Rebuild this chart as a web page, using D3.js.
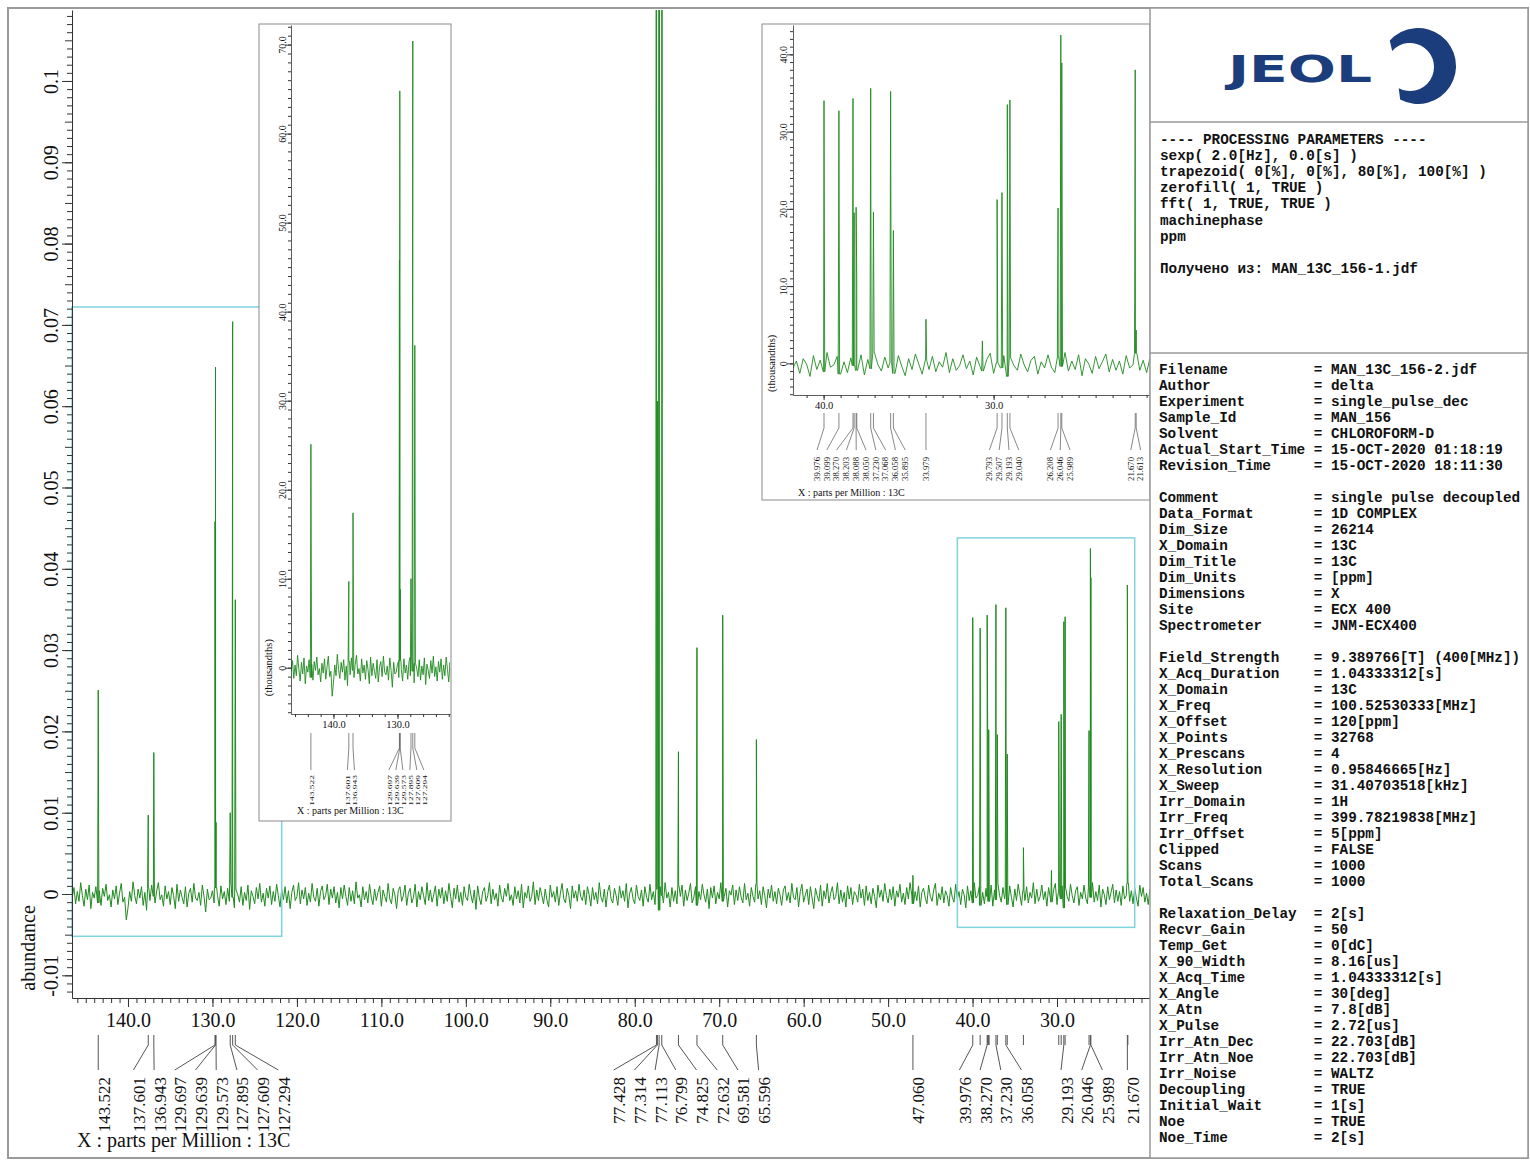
<!DOCTYPE html>
<html>
<head>
<meta charset="utf-8">
<script src="https://cdn.jsdelivr.net/npm/d3@7"></script>
<style>
  html, body { margin: 0; padding: 0; background: #fff; }
  svg { display: block; }
</style>
</head>
<body>
<div id="chart"></div>
<script>
// ---- 数据 ----
// 主图坐标轴刻度
const X_TICKS_MAIN = [140, 130, 120, 110, 100, 90, 80, 70, 60, 50, 40, 30];
const Y_TICKS_MAIN = [-0.01, 0, 0.01, 0.02, 0.03, 0.04, 0.05, 0.06, 0.07, 0.08, 0.09, 0.1];
// 插图刻度（千分之一单位）
const X_TICKS_INSET1 = [140, 130];
const Y_TICKS_INSET1 = [0, 10, 20, 30, 40, 50, 60, 70];
const X_TICKS_INSET2 = [40, 30];
const Y_TICKS_INSET2 = [0, 10, 20, 30, 40];

// 峰位置 (ppm) 与峰高 (thousandths)
const PEAK_PPM = [143.522, 137.601, 136.943, 129.697, 129.639, 129.573, 127.895, 127.609, 127.294,
  77.428, 77.314, 77.113, 76.799, 74.825, 72.632, 69.581, 65.596, 47.060,
  39.976, 39.099, 38.270, 38.203, 38.088, 38.050, 37.230, 37.068, 36.058, 35.895, 33.979,
  29.793, 29.507, 29.193, 29.040, 26.208, 26.046, 25.989, 21.670, 21.613];
const PEAK_HEIGHT = [26.2, 9.0, 17.7, 45.0, 64.0, 8.0, 8.8, 70.8, 35.7,
  300, 60, 300, 300, 16.5, 31.7, 35.2, 17.8, 3.5,
  35.1, 34.1, 34.6, 19.8, 21.1, 12.0, 36.3, 18.3, 35.1, 18.5, 5.3,
  21.1, 22.7, 35.2, 33.4, 19.3, 42.9, 39.3, 36.7, 3.0];
// 未标注的小峰
const EXTRA_PEAK_PPM = [30.66];
const EXTRA_PEAK_HEIGHT = [3.9];

// 各图中标注的峰
const MAIN_LABEL_PPM = [143.522, 137.601, 136.943, 129.697, 129.639, 129.573, 127.895, 127.609, 127.294,
  77.428, 77.314, 77.113, 76.799, 74.825, 72.632, 69.581, 65.596, 47.060,
  39.976, 38.270, 37.230, 36.058, 29.193, 26.046, 25.989, 21.670];
const INSET1_LABEL_PPM = [143.522, 137.601, 136.943, 129.697, 129.639, 129.573, 127.895, 127.609, 127.294];
const INSET2_LABEL_PPM = [39.976, 39.099, 38.270, 38.203, 38.088, 38.050, 37.230, 37.068, 36.058, 35.895,
  33.979, 29.793, 29.507, 29.193, 29.040, 26.208, 26.046, 25.989, 21.670, 21.613];

// 基线噪声（单位 1e-4），从 146.6 ppm 起每 0.2 ppm 一个点
const NOISE_START = 146.6;
const NOISE_STEP = 0.2;
const NOISE = [
  -4, 8, -12, 3, -9, 14, -2, -15, 6, -7, 11, -18, 2, -5, 9, -11, 4, -14, 7, -3,
  12, -8, -1, -16, 5, -6, 10, -13, 1, 13, -10, -4, -32, -17, 3, -9, 15, -2, -12, 6,
  -5, 9, -14, 2, -20, 7, -8, 11, -3, -11, 4, 14, -7, -1, -15, 10, -6, 3, -13, 8,
  -2, -18, 12, -9, 5, -4, -12, 9, -16, 1, 7, -10, 13, -5, -8, 2, -14, 11, -3, -22,
  6, -7, -5, 4, -11, 8, -2, -15, 10, -6, 3, -13, 7, -9, 12, -4, -17, 5, -1, -10,
  9, -14, 2, -8, 11, -19, 4, -3, -12, 8, -6, 13, -10, 1, -15, 7, -5, 10, -13, 3,
  -9, 12, -2, -16, 6, -7, 9, -11, 4, -18, 2, 11, -8, -3, 14, -12, 5, -6, 8, -14,
  1, -10, 13, -4, -9, 7, -15, 3, 10, -7, -2, 12, -13, 6, -5, 9, -11, 2, -17, 8,
  -6, 11, -3, -14, 8, -9, 4, -12, 15, -5, -1, -16, 9, -7, 3, -11, 12, -4, -13, 6,
  -8, 2, 10, -15, 5, -3, -10, 13, -6, -12, 7, -1, -18, 4, 9, -9, -2, 11, -14, 1,
  7, -11, -4, 12, -16, 3, -7, 9, -2, -13, 14, -8, 5, -10, -1, 10, -15, 6, -5, 8,
  -12, 4, -9, 13, -3, -17, 7, -6, 11, -10, 2, -14, 9, -4, -8, 12, -1, -11, 5, -19,
  10, -5, -13, 3, 8, -9, -2, 14, -12, 6, -7, 1, -15, 11, -4, -10, 7, -3, 13, -8,
  -1, -14, 9, -6, 4, -11, 12, -17, 2, -5, 10, -9, -3, 15, -13, 5, -8, 8, -2, -12,
  6, -7, -16, 11, -4, 3, -10, 9, -14, 1, 13, -6, -11, 7, -2, -18, 10, -5, 4, -9,
  12, -3, -8, 5, -13, 9, -1, -15, 8, -7, 2, -12, 14, -4, -10, 6, -16, 3, 11, -6,
  -11, 7, -2, -14, 10, -5, 4, -9, 13, -17, 1, 8, -6, -12, 11, -3, -8, 5, -15, 9,
  -4, -10, 12, -7, 3, -13, 6, -20, 9, -2, -11, 14, -5, 2, -16, 8, -9, 4, -12, 10,
  -3, 11, -15, 5, -8, 1, 13, -11, -4, 9, -14, 3, -7, 12, -1, -10, 6, -18, 8, -5,
  10, -12, 2, -6, 14, -9, -3, 7, -16, 4, -1, 11, -13, 5, -8, 9, -4, -11, 13, -7,
  1, -15, 8, -3, -10, 12, -6, 4, -13, 9, -2, -17, 6, -5, 11, -9, 3, -12, 7, -1,
  -14, 5, 10, -8, 2, -11, 13, -4, -7, 8, -16, 3, 12, -10, -1, 6, -13, 9, -5, -18,
  7, -2, -9, 11, -15, 4, -6, 13, -11, 1, 9, -7, -3, 14, -12, 5, -10, 2, -16, 10,
  -6, 8, -13, 3, -1, -10, 12, -5, 6, -14, 10, -8, 2, -12, 7, -3, -17, 11, -4, 5,
  -9, 13, -2, -11, 6, -7, 9, -15, 4, -4, 12, -10, 1, -13, 8, -6, 14, -1, -12, 3,
  -8, 10, -16, 2, 7, -5, -12, 11, -3, -9, 5, 13, -14, 1, -7, 9, -11, 4, -2, -15,
  8, -4, -10, 12, -6, 3, -13, 6, -1, -17, 10, -8, 4, -11, 14, -5, -2, 9, -14, 2,
  -12, 7, -3, -9, 11, -15, 5, -7, 13, -2, -10, 8, -6, 1, -13, 10, -4, -16, 6, -8,
  12, -1, -14, 4, -8, 9, -11, 2, -5, 14, -12, 6, -9, -3, 11, -7, 3, -15, 8, -4,
  -10, 5, 13, -13, 1, -6, 10, -17, 7, -3, -9, 12, -2, -11, 4, 9, -14, 2, -6, 11,
  -5, -12, 8, -4, 14, -10, 3, -8, 11, -16, 6, -1, -13, 9, -7, 2, 12, -11, 5, -9,
  3, -14, 10, -6, -2, 13, -9, 4, -12, 7, -5, -15, 11, -3, 8, -10, 1, -13, 6, -7
];

// 右侧参数面板
const PROCESSING_LINES = [
  "---- PROCESSING PARAMETERS ----",
  "sexp( 2.0[Hz], 0.0[s] )",
  "trapezoid( 0[%], 0[%], 80[%], 100[%] )",
  "zerofill( 1, TRUE )",
  "fft( 1, TRUE, TRUE )",
  "machinephase",
  "ppm",
  "",
  "Получено из: MAN_13C_156-1.jdf"
];
const PARAM_NAMES = ["Filename", "Author", "Experiment", "Sample_Id", "Solvent", "Actual_Start_Time", "Revision_Time", "",
  "Comment", "Data_Format", "Dim_Size", "X_Domain", "Dim_Title", "Dim_Units", "Dimensions", "Site", "Spectrometer", "",
  "Field_Strength", "X_Acq_Duration", "X_Domain", "X_Freq", "X_Offset", "X_Points", "X_Prescans", "X_Resolution",
  "X_Sweep", "Irr_Domain", "Irr_Freq", "Irr_Offset", "Clipped", "Scans", "Total_Scans", "",
  "Relaxation_Delay", "Recvr_Gain", "Temp_Get", "X_90_Width", "X_Acq_Time", "X_Angle", "X_Atn", "X_Pulse",
  "Irr_Atn_Dec", "Irr_Atn_Noe", "Irr_Noise", "Decoupling", "Initial_Wait", "Noe", "Noe_Time"];
const PARAM_VALUES = ["MAN_13C_156-2.jdf", "delta", "single_pulse_dec", "MAN_156", "CHLOROFORM-D",
  "15-OCT-2020 01:18:19", "15-OCT-2020 18:11:30", "",
  "single pulse decoupled", "1D COMPLEX", "26214", "13C", "13C", "[ppm]", "X", "ECX 400", "JNM-ECX400", "",
  "9.389766[T] (400[MHz])", "1.04333312[s]", "13C", "100.52530333[MHz]", "120[ppm]", "32768", "4",
  "0.95846665[Hz]", "31.40703518[kHz]", "1H", "399.78219838[MHz]", "5[ppm]", "FALSE", "1000", "1000", "",
  "2[s]", "50", "0[dC]", "8.16[us]", "1.04333312[s]", "30[deg]", "7.8[dB]", "2.72[us]",
  "22.703[dB]", "22.703[dB]", "WALTZ", "TRUE", "1[s]", "TRUE", "2[s]"];

// ---- 样式 ----
const SERIF = "'Liberation Serif', 'Times New Roman', serif";
const MONO = "'Liberation Mono', 'Courier New', monospace";
const GREEN = "#1f8a1f";
const CYAN = "#7fd4de";
const AXIS = "#333";
const LOGO_BLUE = "#1c3d7b";

const W = 1530, H = 1160;
const svg = d3.select("#chart").append("svg").attr("width", W).attr("height", H);
const defs = svg.append("defs");

// 主图布局
const M = { left: 72, right: 1150, top: 10, bottom: 998, ppm: [146.63, 18.99], y: [-0.01279, 0.10873] };
// 插图布局
const IN1 = { box: [259, 24, 451, 821], left: 291, right: 450, top: 25, bottom: 714,
  ppm: [146.63, 121.8], y: [-5.2, 72.2], xTicks: X_TICKS_INSET1, yTicks: Y_TICKS_INSET1, xMinor: 2,
  labels: INSET1_LABEL_PPM, geo: { top: 733, bend: 748, end: 770, text: 775, font: 9.5, gap: 7, dx: 1, sx: 0.7 },
  xLabelY: 14, yLabelOff: -4.7, unitX: 268, titleX: 297, titleY: 814, id: "in1" };
const IN2 = { box: [762, 24, 1150, 500], left: 793, right: 1150, top: 25, bottom: 395,
  ppm: [41.8, 20.8], y: [-4.1, 43.8], xTicks: X_TICKS_INSET2, yTicks: Y_TICKS_INSET2, xMinor: 1,
  labels: INSET2_LABEL_PPM, geo: { top: 413, bend: 428, end: 450, text: 457, font: 8.7, gap: 9.8, dx: 0.5, sx: 0.9 },
  xLabelY: 14, yLabelOff: -5.7, unitX: 771, titleX: 798, titleY: 496, id: "in2" };

const allPeaks = PEAK_PPM.map((p, i) => [p, PEAK_HEIGHT[i]])
  .concat(EXTRA_PEAK_PPM.map((p, i) => [p, EXTRA_PEAK_HEIGHT[i]]));

// 生成谱线像素点：噪声点 + 每个峰的尖峰
function spectrumPoints(x, y, k, halfW) {
  const pts = NOISE.map((v, i) => [x(NOISE_START - i * NOISE_STEP), y(v / 10 * k)]);
  allPeaks.forEach(([p, h]) => {
    const i = Math.round((NOISE_START - p) / NOISE_STEP);
    const base = (NOISE[i] || 0) / 10;
    const px = x(p);
    pts.push([px - halfW, y(base * k)], [px, y((base + h) * k)], [px + halfW, y(base * k)]);
  });
  pts.sort((a, b) => a[0] - b[0]);
  return pts;
}

// 标签位置：保序回归，保证最小间距
function spreadSlots(xs, gap) {
  const blocks = [];
  xs.forEach((v, i) => {
    blocks.push({ n: 1, sum: v - i * gap });
    while (blocks.length > 1) {
      const b = blocks[blocks.length - 1], a = blocks[blocks.length - 2];
      if (a.sum / a.n <= b.sum / b.n) break;
      a.n += b.n; a.sum += b.sum; blocks.pop();
    }
  });
  const out = [];
  blocks.forEach(b => { for (let j = 0; j < b.n; j++) out.push(b.sum / b.n + out.length * gap); });
  return out;
}

function drawPeakLabels(g, x, labelPpm, tickPpm, geo, lineW) {
  tickPpm.forEach(p => {
    g.append("line").attr("x1", x(p)).attr("x2", x(p)).attr("y1", geo.top).attr("y2", geo.bend)
      .attr("stroke", "#555").attr("stroke-width", lineW);
  });
  const sorted = labelPpm.slice().sort((a, b) => b - a);
  const xs = sorted.map(x);
  const slots = spreadSlots(xs, geo.gap);
  sorted.forEach((p, i) => {
    g.append("path")
      .attr("d", `M${xs[i]},${geo.top}L${xs[i]},${geo.bend}L${slots[i]},${geo.end}`)
      .attr("fill", "none").attr("stroke", "#555").attr("stroke-width", lineW);
    g.append("text")
      .attr("transform", `translate(${slots[i] + geo.dx},${geo.text}) scale(${geo.sx || 1},1) rotate(-90)`)
      .attr("text-anchor", "end").attr("dominant-baseline", "central")
      .attr("font-family", SERIF).attr("font-size", geo.font).attr("fill", "#111")
      .text(d3.format(".3f")(p));
  });
}

function clip(id, x0, y0, x1, y1) {
  defs.append("clipPath").attr("id", id).append("rect")
    .attr("x", x0).attr("y", y0).attr("width", x1 - x0).attr("height", y1 - y0);
}

// ---- 外框 ----
svg.append("rect").attr("x", 8).attr("y", 8).attr("width", 1520).attr("height", 1150)
  .attr("fill", "#fff").attr("stroke", "#9a9a9a").attr("stroke-width", 2);

// ---- 主图 ----
const xM = d3.scaleLinear().domain(M.ppm).range([M.left, M.right]);
const yM = d3.scaleLinear().domain(M.y).range([M.bottom, M.top]);
clip("clip-main", M.left, M.top, M.right, M.bottom);

svg.append("path")
  .attr("clip-path", "url(#clip-main)")
  .attr("d", d3.line()(spectrumPoints(xM, yM, 0.001, 0.6)))
  .attr("fill", "none").attr("stroke", GREEN).attr("stroke-width", 1);

// 缩放区域的青色框
[IN1, IN2].forEach(c => {
  const x0 = xM(c.ppm[0]), x1 = xM(c.ppm[1]);
  const y0 = yM(c.y[1] / 1000), y1 = yM(c.y[0] / 1000);
  svg.append("rect").attr("x", x0).attr("y", y0).attr("width", x1 - x0).attr("height", y1 - y0)
    .attr("fill", "none").attr("stroke", CYAN).attr("stroke-width", 1.5);
});

// x 轴
svg.append("g").attr("transform", `translate(0,${M.bottom})`).attr("color", AXIS)
  .call(d3.axisBottom(xM).tickValues(d3.range(19, 147)).tickSize(5).tickFormat(""))
  .call(g => g.select(".domain").remove());
const gxM = svg.append("g").attr("transform", `translate(0,${M.bottom})`).attr("color", AXIS)
  .call(d3.axisBottom(xM).tickValues(X_TICKS_MAIN).tickSize(9).tickSizeOuter(0).tickFormat(d => d.toFixed(1)));
gxM.selectAll("text").attr("y", 29).attr("dy", 0).attr("font-family", SERIF).attr("font-size", 20).attr("fill", "#111");

// y 轴
svg.append("g").attr("transform", `translate(${M.left},0)`).attr("color", AXIS)
  .call(d3.axisLeft(yM).tickValues(d3.range(-12, 109).map(i => i / 1000).filter(v => Math.round(v * 1000) % 5 !== 0)).tickSize(5).tickFormat(""))
  .call(g => g.select(".domain").remove());
svg.append("g").attr("transform", `translate(${M.left},0)`).attr("color", AXIS)
  .call(d3.axisLeft(yM).tickValues(d3.range(-10, 109, 5).map(i => i / 1000)).tickSize(7).tickFormat(""))
  .call(g => g.select(".domain").remove());
const gyM = svg.append("g").attr("transform", `translate(${M.left},0)`).attr("color", AXIS)
  .call(d3.axisLeft(yM).tickValues(Y_TICKS_MAIN).tickSize(10).tickSizeOuter(0).tickFormat(d => String(d)));
gyM.selectAll("text").attr("transform", "rotate(-90)").attr("x", 0).attr("y", -14).attr("dy", 0)
  .attr("text-anchor", "middle").attr("font-family", SERIF).attr("font-size", 20).attr("fill", "#111");

svg.append("text").attr("transform", `translate(35,948) rotate(-90)`).attr("text-anchor", "middle")
  .attr("font-family", SERIF).attr("font-size", 20).attr("fill", "#111").text("abundance");
svg.append("text").attr("x", 77).attr("y", 1147).attr("font-family", SERIF).attr("font-size", 20)
  .attr("fill", "#111").text("X : parts per Million : 13C");

// 主图峰标注
const inMain = p => p <= M.ppm[0] && p >= M.ppm[1];
drawPeakLabels(svg.append("g"), xM, MAIN_LABEL_PPM,
  PEAK_PPM.filter(p => inMain(p) && !MAIN_LABEL_PPM.includes(p)),
  { top: 1035, bend: 1045, end: 1070, text: 1077, font: 17, gap: 20.7, dx: 6 }, 1);

// ---- 插图 ----
function drawInset(c) {
  const g = svg.append("g");
  const [bx0, by0, bx1, by1] = c.box;
  g.append("rect").attr("x", bx0).attr("y", by0).attr("width", bx1 - bx0).attr("height", by1 - by0)
    .attr("fill", "#fff").attr("stroke", "#8a8a8a").attr("stroke-width", 1);
  const x = d3.scaleLinear().domain(c.ppm).range([c.left, c.right]);
  const y = d3.scaleLinear().domain(c.y).range([c.bottom, c.top]);
  clip("clip-" + c.id, c.left, c.top, c.right, c.bottom);
  g.append("path").attr("clip-path", `url(#clip-${c.id})`)
    .attr("d", d3.line()(spectrumPoints(x, y, 1, 0.7)))
    .attr("fill", "none").attr("stroke", GREEN).attr("stroke-width", 0.9);

  const lo = Math.ceil(Math.min(...c.ppm)), hi = Math.floor(Math.max(...c.ppm));
  g.append("g").attr("transform", `translate(0,${c.bottom})`).attr("color", AXIS)
    .call(d3.axisBottom(x).tickValues(d3.range(lo, hi + 1).filter(v => v % c.xMinor === 0)).tickSize(3).tickFormat(""))
    .call(s => s.select(".domain").remove());
  const gx = g.append("g").attr("transform", `translate(0,${c.bottom})`).attr("color", AXIS)
    .call(d3.axisBottom(x).tickValues(c.xTicks).tickSize(5).tickSizeOuter(0).tickFormat(d => d.toFixed(1)));
  gx.selectAll("text").attr("y", c.xLabelY).attr("dy", 0).attr("font-family", SERIF).attr("font-size", 10.5).attr("fill", "#111");
  gx.select(".domain").attr("stroke-width", 0.8);

  g.append("g").attr("transform", `translate(${c.left},0)`).attr("color", AXIS)
    .call(d3.axisLeft(y).tickValues(d3.range(Math.ceil(c.y[0]), Math.floor(c.y[1]) + 1)).tickSize(3).tickFormat(""))
    .call(s => s.select(".domain").remove());
  const gy = g.append("g").attr("transform", `translate(${c.left},0)`).attr("color", AXIS)
    .call(d3.axisLeft(y).tickValues(c.yTicks).tickSize(6).tickSizeOuter(0).tickFormat(d => d === 0 ? "0" : d.toFixed(1)));
  gy.selectAll("text").attr("transform", "rotate(-90)").attr("x", 0).attr("y", c.yLabelOff).attr("dy", 0)
    .attr("text-anchor", "middle").attr("font-family", SERIF).attr("font-size", 10).attr("fill", "#111");
  gy.select(".domain").attr("stroke-width", 0.8);

  g.append("text").attr("transform", `translate(${c.unitX},${y(0)}) rotate(-90)`)
    .attr("text-anchor", "middle").attr("dominant-baseline", "central")
    .attr("font-family", SERIF).attr("font-size", 10.5).attr("fill", "#111").text("(thousandths)");
  g.append("text").attr("x", c.titleX).attr("y", c.titleY).attr("font-family", SERIF)
    .attr("font-size", 10).attr("fill", "#111").text("X : parts per Million : 13C");

  drawPeakLabels(g, x, c.labels, [], c.geo, 0.7);
}
drawInset(IN1);
drawInset(IN2);

// ---- 右侧面板 ----
const P = svg.append("g");
P.append("rect").attr("x", 1150).attr("y", 8).attr("width", 378).attr("height", 1150)
  .attr("fill", "#fff").attr("stroke", "#9a9a9a").attr("stroke-width", 1.5);
[122, 353].forEach(yy => P.append("line").attr("x1", 1150).attr("x2", 1528).attr("y1", yy).attr("y2", yy)
  .attr("stroke", "#9a9a9a").attr("stroke-width", 1.5));

// JEOL 标志
P.append("text").attr("x", 1228).attr("y", 82)
  .attr("font-family", "'DejaVu Sans', sans-serif").attr("font-weight", "bold").attr("font-size", 37)
  .attr("textLength", 144).attr("lengthAdjust", "spacingAndGlyphs").attr("fill", LOGO_BLUE).text("JEOL");
(function ring() {
  const oc = [1418, 66], orr = 38, ic = [1410, 67], ir = 24;
  const a0 = 222 * Math.PI / 180, a1 = 478 * Math.PI / 180;
  const pt = (c, r, a) => [c[0] + r * Math.cos(a), c[1] + r * Math.sin(a)];
  const p0 = pt(oc, orr, a0), p1 = pt(oc, orr, a1), q1 = pt(ic, ir, a1), q0 = pt(ic, ir, a0);
  P.append("path")
    .attr("d", `M${p0}A${orr},${orr} 0 1 1 ${p1}L${q1}A${ir},${ir} 0 1 0 ${q0}Z`)
    .attr("fill", LOGO_BLUE);
})();

const monoText = (x, y, s) => P.append("text").attr("x", x).attr("y", y)
  .attr("xml:space", "preserve").style("white-space", "pre")
  .attr("font-family", MONO).attr("font-weight", "bold").attr("font-size", 14.33).attr("fill", "#111").text(s);

PROCESSING_LINES.forEach((s, i) => { if (s) monoText(1160, 144 + i * 16.1, s); });
PARAM_NAMES.forEach((k, i) => {
  if (!k) return;
  monoText(1159, 374 + i * 16, k.padEnd(17) + " = " + PARAM_VALUES[i]);
});
</script>
</body>
</html>
